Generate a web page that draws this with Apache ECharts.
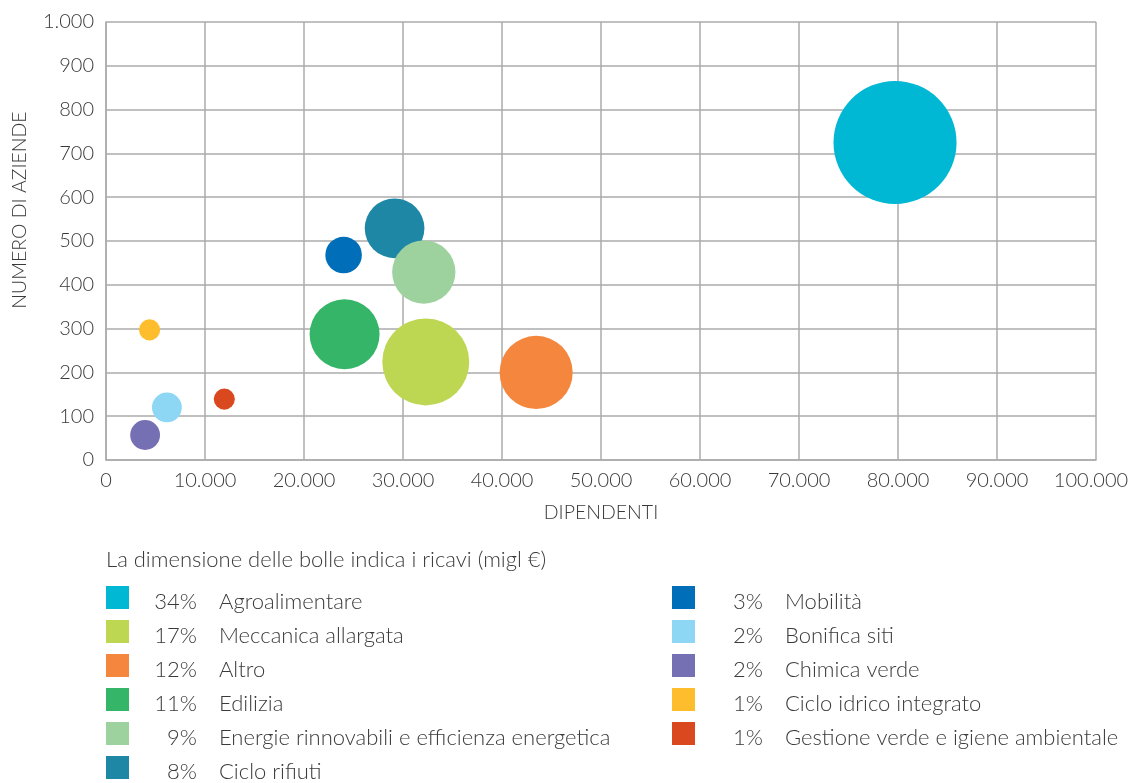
<!DOCTYPE html>
<html>
<head>
<meta charset="utf-8">
<script src="https://cdn.jsdelivr.net/npm/echarts@6/dist/echarts.min.js"></script>
<style>
html,body{margin:0;padding:0;background:#fff;}
#c{width:1131px;height:783px;}
</style>
</head>
<body>
<div id="c"></div>
<script>
// ---- data ----
const settori = ['Agroalimentare','Meccanica allargata','Altro','Edilizia','Energie rinnovabili e efficienza energetica','Ciclo rifiuti','Mobilità','Bonifica siti','Chimica verde','Ciclo idrico integrato','Gestione verde e igiene ambientale'];
const dipendenti = [79700, 32300, 43450, 24100, 32100, 29150, 24000, 6150, 3950, 4400, 11950];
const aziende = [725, 224, 200, 287, 429, 529, 468, 120, 57, 297, 139];
const quotaRicavi = [34, 17, 12, 11, 9, 8, 3, 2, 2, 1, 1];
const colori = ['#00B7D4','#BDD753','#F4863E','#34B568','#9DD29E','#1F87A6','#006EB9','#8DD7F5','#7570B3','#FDBD2C','#D9481F'];
const xTicks = [0,10000,20000,30000,40000,50000,60000,70000,80000,90000,100000];
const yTicks = [0,100,200,300,400,500,600,700,800,900,1000];
const drawOrder = [0,1,2,3,5,4,6,7,8,9,10];

const FONT = 'Lato';
const TXT = '#3a3a3a';
const GRID = '#ababab';
const LEG_FONT = '300 22px ' + FONT;
const fmt = v => String(v).replace(/\B(?=(\d{3})+(?!\d))/g, '.');
const sizeOf = p => 21.1 * Math.sqrt(p);

const series = drawOrder.map(i => ({
  name: settori[i],
  type: 'scatter',
  data: [[dipendenti[i], aziende[i], quotaRicavi[i]]],
  symbol: 'circle',
  symbolSize: d => sizeOf(d[2]),
  itemStyle: {color: colori[i], opacity: 1},
  emphasis: {disabled: true},
  silent: true
}));

// measure percentage widths to right-align them
const mctx = document.createElement('canvas').getContext('2d');
mctx.font = LEG_FONT;
const PCT_BOX = 63;
const rich = {};
const keyByName = {};
settori.forEach((s,i) => {
  const t = quotaRicavi[i] + '%';
  const w = mctx.measureText(t).width;
  const k = 'p' + i;
  keyByName[s] = {k: k, t: t};
  rich[k] = {padding: [0,0,0,Math.max(0, PCT_BOX - w)], fontFamily: FONT, fontWeight: 300, fontSize: 22, color: TXT, lineHeight: 24};
});
rich.n = {padding: [0,0,0,22], fontFamily: FONT, fontWeight: 300, fontSize: 22, color: TXT, lineHeight: 24};

// square icon sitting in the upper part of a 23x31 box (text centred lower, like the reference)
const ICON = 'path://M0,0L23,0L23,23L0,23Z M0,31L0.01,31L0,31Z';

function legend(names, left){
  return {
    orient: 'vertical', left: left, top: 586, height: 215, padding: 0,
    itemWidth: 23, itemHeight: 31, itemGap: 3,
    icon: ICON, selectedMode: false,
    data: names,
    formatter: n => '{' + keyByName[n].k + '|' + keyByName[n].t + '}{n|' + n + '}',
    textStyle: {fontFamily: FONT, fontWeight: 300, fontSize: 22, color: TXT, lineHeight: 24, rich: rich}
  };
}

const chart = echarts.init(document.getElementById('c'), null, {renderer: 'canvas'});
chart.setOption({
  animation: false,
  backgroundColor: '#fff',
  grid: {left: 106, right: 35, top: 22, bottom: 323, containLabel: false, outerBoundsMode: 'none'},
  xAxis: {
    type: 'value', min: xTicks[0], max: xTicks[xTicks.length-1], interval: xTicks[1]-xTicks[0],
    name: 'DIPENDENTI', nameLocation: 'middle', nameGap: 43,
    nameTextStyle: {fontFamily: FONT, fontWeight: 300, fontSize: 19.5, color: TXT},
    axisLine: {show: true, lineStyle: {color: GRID, width: 1.5}},
    axisTick: {show: false},
    axisLabel: {
      formatter: v => v === xTicks[xTicks.length-1] ? '{m|' + fmt(v) + '}' : fmt(v),
      margin: 11, fontFamily: FONT, fontWeight: 300, fontSize: 20, color: TXT,
      rich: {m: {padding: [0,10,0,0], fontFamily: FONT, fontWeight: 300, fontSize: 20, color: TXT}}
    },
    splitLine: {show: true, lineStyle: {color: GRID, width: 1.5}}
  },
  yAxis: {
    type: 'value', min: yTicks[0], max: yTicks[yTicks.length-1], interval: yTicks[1]-yTicks[0],
    axisLine: {show: true, lineStyle: {color: GRID, width: 1.5}},
    axisTick: {show: false},
    axisLabel: {formatter: fmt, margin: 12, fontFamily: FONT, fontWeight: 300, fontSize: 20, color: TXT},
    splitLine: {show: true, lineStyle: {color: GRID, width: 1.5}}
  },
  legend: [legend(settori.slice(0,6), 106), legend(settori.slice(6), 672)],
  graphic: [
    {type: 'text', left: 106, top: 549, style: {text: 'La dimensione delle bolle indica i ricavi (migl €)', font: LEG_FONT, fill: TXT}},
    {type: 'text', x: 20, y: 210, rotation: Math.PI/2, style: {text: 'NUMERO DI AZIENDE', font: '300 19.5px ' + FONT, fill: TXT, align: 'center', verticalAlign: 'middle'}}
  ],
  series: series
});
</script>
</body>
</html>
